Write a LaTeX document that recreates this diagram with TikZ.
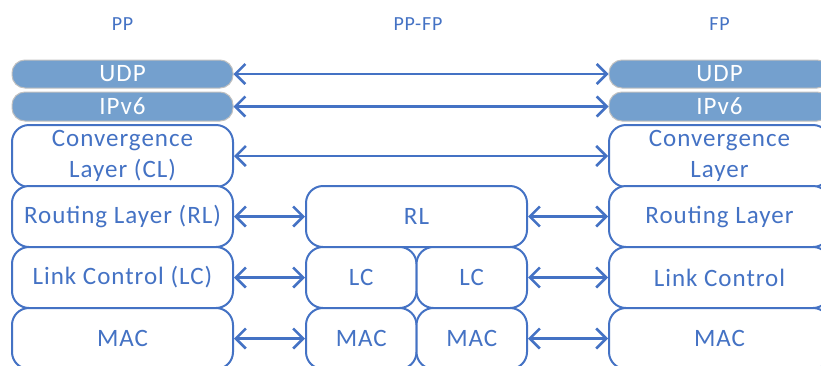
\documentclass[tikz,border=0pt]{standalone}
\usepackage{fontspec}
\setmainfont{Carlito}[LetterSpace=4]
\usetikzlibrary{arrows.meta}
\definecolor{ublue}{RGB}{68,114,196}
\definecolor{ufill}{RGB}{116,160,206}
\definecolor{ugray}{RGB}{192,192,192}
\begin{document}
\begin{tikzpicture}[x=1pt,y=-1pt,
  layer/.style={draw=ublue, line width=2pt, fill=white, rounded corners=17pt, inner sep=0pt,
    text=ublue, font=\fontsize{25}{31}\selectfont, align=center, minimum height=61pt},
  wide/.style={minimum width=221pt},
  half/.style={minimum width=110.5pt},
  ipbox/.style={draw=ugray, line width=1pt, fill=ufill, rounded corners=13pt, inner sep=0pt,
    text=white, font=\fontsize{25}{30}\selectfont, minimum width=221pt, minimum height=29pt},
  hdr/.style={text=ublue, font=\fontsize{20}{22}\selectfont},
  link/.style={draw=ublue, line width=2.6pt,
    {Straight Barb[length=10pt,width=20pt]}-{Straight Barb[length=10pt,width=20pt]}}
]
\useasboundingbox (0,0) rectangle (821,365);
\clip (0,0) rectangle (821,365);

% headers
\node[hdr] (hpp) at (122.5,24) {PP};
\node[hdr] (hppfp) at (418,24) {PP-FP};
\node[hdr] (hfp) at (719.5,24) {FP};

% PP column
\node[ipbox, minimum height=28pt] (ppudp) at (122.5,74) {UDP};
\node[ipbox] (ppip) at (122.5,106.5) {IPv6};
\node[layer, wide, minimum height=62pt] (ppcl) at (122.5,156) {Convergence\\Layer (CL)};
\node[layer, wide] (pprl) at (122.5,216.5) {Routing Layer (RL)};
\node[layer, wide] (pplc) at (122.5,277.5) {Link Control (LC)};
\node[layer, wide] (ppmac) at (122.5,338.5) {MAC};

% PP-FP column
\node[layer, wide] (mrl) at (416.5,216.5) {RL};
\node[layer, half] (mlc1) at (361.25,277.5) {LC};
\node[layer, half] (mlc2) at (471.75,277.5) {LC};
\node[layer, half] (mmac1) at (361.25,338.5) {MAC};
\node[layer, half] (mmac2) at (471.75,338.5) {MAC};

% FP column
\node[ipbox, minimum height=28pt] (fpudp) at (719.5,74) {UDP};
\node[ipbox] (fpip) at (719.5,106.5) {IPv6};
\node[layer, wide, minimum height=62pt] (fpcl) at (719.5,156) {Convergence\\Layer};
\node[layer, wide] (fprl) at (719.5,216.5) {Routing Layer};
\node[layer, wide] (fplc) at (719.5,277.5) {Link Control};
\node[layer, wide] (fpmac) at (719.5,338.5) {MAC};

% connectors
\draw[link] (ppudp.east) -- (fpudp.west);
\draw[link] (ppip.east) -- (fpip.west);
\draw[link] (ppcl.east) -- (fpcl.west);
\draw[link] (pprl.east) -- (mrl.west);
\draw[link] (mrl.east) -- (fprl.west);
\draw[link] (pplc.east) -- (mlc1.west);
\draw[link] (mlc2.east) -- (fplc.west);
\draw[link] (ppmac.east) -- (mmac1.west);
\draw[link] (mmac2.east) -- (fpmac.west);
\end{tikzpicture}
\end{document}
